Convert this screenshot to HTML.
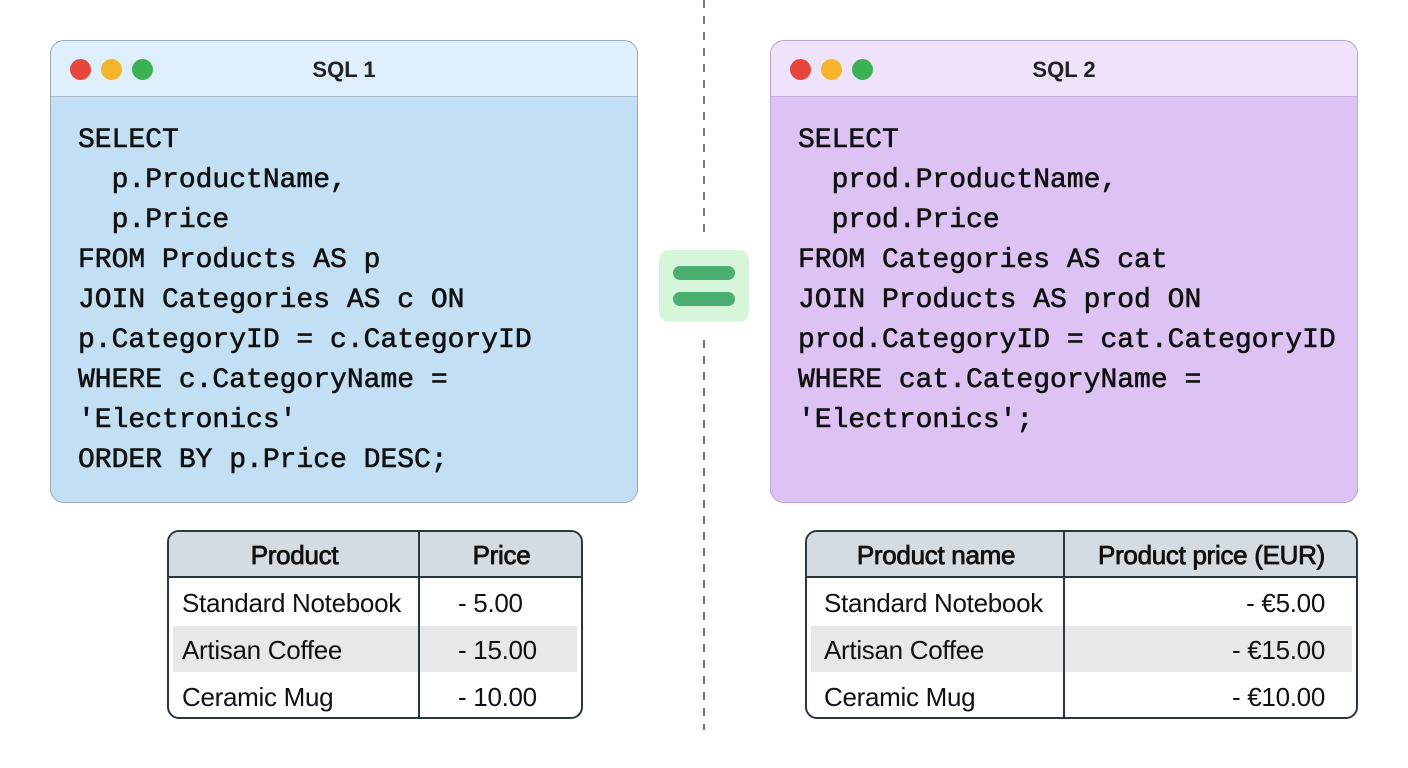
<!DOCTYPE html>
<html><head><meta charset="utf-8"><style>
*{margin:0;padding:0;box-sizing:border-box}
body{width:1408px;height:768px;background:#fff;position:relative;overflow:hidden;font-family:"Liberation Sans",sans-serif}
.win{position:absolute;top:40px;width:588px;height:463px;border-radius:14px;border:1.5px solid #9ab}
.bar{position:absolute;left:0;top:0;right:0;height:56px;border-bottom:1.5px solid #a9bccb;border-radius:13px 13px 0 0}
.dot{position:absolute;top:18px;width:21px;height:21px;border-radius:50%}
.title{position:absolute;left:0;right:0;top:16px;text-align:center;font-weight:bold;font-size:22px;color:#222}
pre{position:absolute;left:27px;top:80px;font-family:"Liberation Mono",monospace;font-size:28px;line-height:40px;color:#111;-webkit-text-stroke:0.6px #111}
.tbl{position:absolute;top:530px;height:189px;border:2px solid #2a3640;border-radius:12px;overflow:hidden;background:#fff}
.hd{position:absolute;left:0;right:0;top:0;height:46px;background:#d4dbe1;border-bottom:2px solid #2a3640}
.sh{position:absolute;left:4px;right:4px;top:94px;height:46px;background:#e6e8ea}
.vl{position:absolute;top:0;bottom:0;width:2px;background:#2a3640}
.t{position:absolute;font-size:26px;color:#111;white-space:nowrap;line-height:30px;letter-spacing:-0.3px}
.h{-webkit-text-stroke:0.8px #111}
</style></head><body>
<svg style="position:absolute;left:0;top:0" width="1408" height="768">
<line x1="704" y1="0" x2="704" y2="238" stroke="#777" stroke-width="2" stroke-dasharray="8,8"/>
<line x1="704" y1="340" x2="704" y2="730" stroke="#777" stroke-width="2" stroke-dasharray="8,8"/>
<rect x="659" y="250" width="90" height="72" rx="10" fill="#d6f5d9"/>
<rect x="673" y="266" width="62" height="14" rx="7" fill="#4caf72"/>
<rect x="673" y="292" width="62" height="14" rx="7" fill="#4caf72"/>
</svg>

<div class="win" style="left:50px;background:#c2dff3">
<div class="bar" style="background:#deeefa"></div>
<div class="dot" style="left:19px;background:#e8453c"></div>
<div class="dot" style="left:50px;background:#f4b52a"></div>
<div class="dot" style="left:81px;background:#3cb153"></div>
<div class="title">SQL 1</div>
<pre>SELECT
  p.ProductName,
  p.Price
FROM Products AS p
JOIN Categories AS c ON
p.CategoryID = c.CategoryID
WHERE c.CategoryName =
'Electronics'
ORDER BY p.Price DESC;</pre>
</div>

<div class="win" style="left:770px;background:#dcc3f3;border-color:#b9a3cc">
<div class="bar" style="background:#efe2fb;border-color:#c3aed6"></div>
<div class="dot" style="left:19px;background:#e8453c"></div>
<div class="dot" style="left:50px;background:#f4b52a"></div>
<div class="dot" style="left:81px;background:#3cb153"></div>
<div class="title">SQL 2</div>
<pre>SELECT
  prod.ProductName,
  prod.Price
FROM Categories AS cat
JOIN Products AS prod ON
prod.CategoryID = cat.CategoryID
WHERE cat.CategoryName =
'Electronics';</pre>
</div>

<div class="tbl" style="left:167px;width:416px">
<div class="hd"></div><div class="sh"></div>
<div class="vl" style="left:249px"></div>
<div class="t h" style="left:0;width:251px;text-align:center;top:8px">Product</div>
<div class="t h" style="left:251px;width:163px;text-align:center;top:8px">Price</div>
<div class="t" style="left:13px;top:56px">Standard Notebook</div>
<div class="t" style="left:13px;top:103px">Artisan Coffee</div>
<div class="t" style="left:13px;top:150px">Ceramic Mug</div>
<div class="t" style="left:289px;top:56px">- 5.00</div>
<div class="t" style="left:289px;top:103px">- 15.00</div>
<div class="t" style="left:289px;top:150px">- 10.00</div>
</div>

<div class="tbl" style="left:805px;width:553px">
<div class="hd"></div><div class="sh"></div>
<div class="vl" style="left:256px"></div>
<div class="t h" style="left:0;width:258px;text-align:center;top:8px">Product name</div>
<div class="t h" style="left:258px;width:293px;text-align:center;top:8px">Product price (EUR)</div>
<div class="t" style="left:17px;top:56px">Standard Notebook</div>
<div class="t" style="left:17px;top:103px">Artisan Coffee</div>
<div class="t" style="left:17px;top:150px">Ceramic Mug</div>
<div class="t" style="right:31px;top:56px">- €5.00</div>
<div class="t" style="right:31px;top:103px">- €15.00</div>
<div class="t" style="right:31px;top:150px">- €10.00</div>
</div>
</body></html>
